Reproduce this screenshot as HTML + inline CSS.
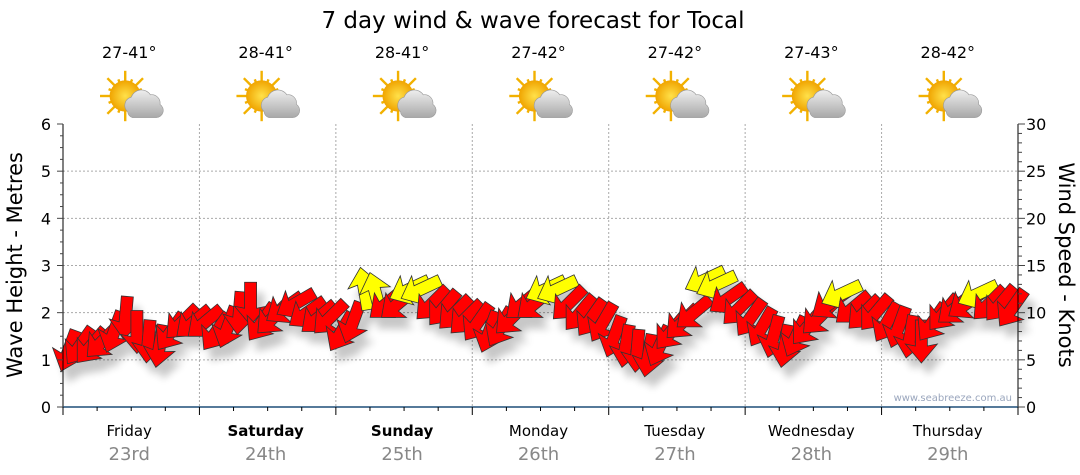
<!DOCTYPE html>
<html><head><meta charset="utf-8">
<style>
body{margin:0;background:#fff;font-family:"DejaVu Sans","Liberation Sans",sans-serif;}
svg{display:block}
</style></head>
<body>
<svg id="chart" width="1080" height="475" viewBox="0 0 1080 475" xmlns="http://www.w3.org/2000/svg">
<defs>
<filter id="sh" x="-50%" y="-50%" width="200%" height="200%">
<feGaussianBlur in="SourceAlpha" stdDeviation="4"/>
<feOffset dx="7" dy="11" result="b"/>
<feComponentTransfer><feFuncA type="linear" slope="0.22"/></feComponentTransfer>
<feMerge><feMergeNode/><feMergeNode in="SourceGraphic"/></feMerge>
</filter>
<radialGradient id="sun" cx="50%" cy="50%" r="50%"><stop offset="0" stop-color="#ffe14a"/><stop offset="1" stop-color="#f0a400"/></radialGradient>
<linearGradient id="cloud" x1="0" y1="0" x2="0" y2="1"><stop offset="0" stop-color="#eeeeee"/><stop offset="1" stop-color="#a8a8a8"/></linearGradient>
</defs>
<text x="533" y="28" font-size="23" text-anchor="middle" fill="#000">7 day wind &amp; wave forecast for Tocal</text>
<g id="grid"></g>
<g id="icons"></g>
<g id="arrows" filter="url(#sh)"></g>
<g id="axes"></g>
<text x="1012" y="401" font-size="10" text-anchor="end" fill="#9aa6bd">www.seabreeze.com.au</text>
<text transform="translate(22,265) rotate(-90)" font-size="21" text-anchor="middle">Wave Height - Metres</text>
<text transform="translate(1059,265) rotate(90)" font-size="21" text-anchor="middle">Wind Speed - Knots</text>
</svg>
<script>
const days=["Friday","Saturday","Sunday","Monday","Tuesday","Wednesday","Thursday"];
const dates=["23rd","24th","25th","26th","27th","28th","29th"];
const temps=["27-41°","28-41°","28-41°","27-42°","27-42°","27-43°","28-42°"];
const boldDays=[false,true,true,false,false,false,false];
const leftTicks=[0,1,2,3,4,5,6];
const rightTicks=[0,5,10,15,20,25,30];
const windSpeed=[
6,6.5,6.5,7,8,9.5,8,7,6.5,8,9,9,
9,8,8.5,10,11,9,9.5,10.5,11,10,9.5,9.5,
8,9,12.5,12,11,11,12.5,12.5,11,10.5,10,9.5,
9,8,8.5,9.5,11,11,12.5,12.5,11,10,9.5,9,
7.5,6.5,6,5.5,6.5,8,9,10,13.5,13,11.5,10.5,
9.5,8.5,7.5,6.5,7.5,8.5,9.5,11,12,10.5,10,10,
9,8.5,7.5,7,9,10,10.5,11,12,11,11,10.5];
const windDir=[
200,215,220,225,200,185,180,185,190,215,225,230,
230,215,200,185,180,215,225,235,240,235,230,225,
210,200,350,345,230,230,245,245,225,220,225,225,
215,200,210,225,230,230,245,245,225,220,215,210,
200,190,185,190,205,220,225,230,245,245,235,225,
215,210,195,190,205,220,225,235,245,230,225,220,
210,200,190,180,215,220,230,235,245,225,220,215];
const NS="http://www.w3.org/2000/svg";
const L=63,R=1018,T=124,B=407;
const xDay=d=>L+d*(R-L)/7;
const yM=m=>B-m*(B-T)/6;
const yK=k=>B-k*(B-T)/30;
function mk(tag,attrs,parent){const e=document.createElementNS(NS,tag);for(const k in attrs)e.setAttribute(k,attrs[k]);parent.appendChild(e);return e;}
const grid=document.getElementById('grid'),axes=document.getElementById('axes'),arrows=document.getElementById('arrows'),icons=document.getElementById('icons');
leftTicks.forEach(v=>{if(v>0&&v<6){const l=mk('line',{x1:L,x2:R,y1:yM(v),y2:yM(v),stroke:'#aaa','stroke-dasharray':'2,2'},grid);

}});
for(let d=1;d<7;d++){const l=mk('line',{x1:xDay(d),x2:xDay(d),y1:T,y2:B,stroke:'#aaa','stroke-dasharray':'2,2'},grid);

}
mk('line',{x1:L,x2:L,y1:T,y2:B+5,stroke:'#000'},axes);
mk('line',{x1:R,x2:R,y1:T,y2:B,stroke:'#000'},axes);
mk('line',{x1:L,x2:R,y1:B,y2:B,stroke:'#1f4e79','stroke-width':1.5},axes);
for(let i=0;i<=24;i++){const y=yM(i/4);mk('line',{x1:L-(i%4?3:6),x2:L,y1:y,y2:y,stroke:'#444'},axes);}
for(let i=0;i<=30;i++){const y=yK(i);mk('line',{x1:R,x2:R+(i%5?4:7),y1:y,y2:y,stroke:'#444'},axes);}
leftTicks.forEach(v=>{const t=mk('text',{x:L-12,y:yM(v)+6,'font-size':16,'text-anchor':'end'},axes);t.textContent=v;

});
rightTicks.forEach(v=>{const t=mk('text',{x:R+8,y:yK(v)+6,'font-size':16},axes);t.textContent=v;

});
for(let i=0;i<=28;i++){const x=L+i*(R-L)/28;mk('line',{x1:x,x2:x,y1:B,y2:B+(i%4?4:8),stroke:'#000'},axes);}
days.forEach((d,i)=>{const cx=xDay(i+0.5);
const t=mk('text',{x:cx-2,y:436,'font-size':15,'text-anchor':'middle','font-weight':boldDays[i]?'bold':'normal'},axes);t.textContent=d;


const t2=mk('text',{x:cx-2,y:460,'font-size':18,'text-anchor':'middle',fill:'#888'},axes);t2.textContent=dates[i];


const t3=mk('text',{x:cx-2,y:58,'font-size':16,'text-anchor':'middle'},icons);t3.textContent=temps[i];


const g=mk('g',{transform:`translate(${cx-6},${96}) scale(1.2)`},icons);


for(let a=0;a<16;a++){const ang=a*Math.PI/8;mk('line',{x1:Math.cos(ang)*10,y1:Math.sin(ang)*10,x2:Math.cos(ang)*(a%2?15:21),y2:Math.sin(ang)*(a%2?15:21),stroke:'#f2b100','stroke-width':2},g);}
mk('circle',{cx:0,cy:0,r:13,fill:'url(#sun)'},g);
mk('path',{d:'M2 13 a7 7 0 0 1 3-12 a9 9 0 0 1 16-2 a7 7 0 0 1 8 8 a6 6 0 0 1-3 11 h-20 a6 6 0 0 1-4-5z',fill:'url(#cloud)',stroke:'#999','stroke-width':0.5},g);
});
const n=windSpeed.length;
windSpeed.forEach((s,i)=>{const x=L+(i+0.5)*(R-L)/n,y=yK(s);
const p=mk('polygon',{points:'0,-22 16,-3 6,-5 6,21 -6,21 -6,-5 -16,-3',fill:s>=12?'#ffff00':'#ff0000',stroke:'#333','stroke-width':0.8,transform:`translate(${x},${y}) rotate(${windDir[i]})`},arrows);

});
</script>
</body></html>
